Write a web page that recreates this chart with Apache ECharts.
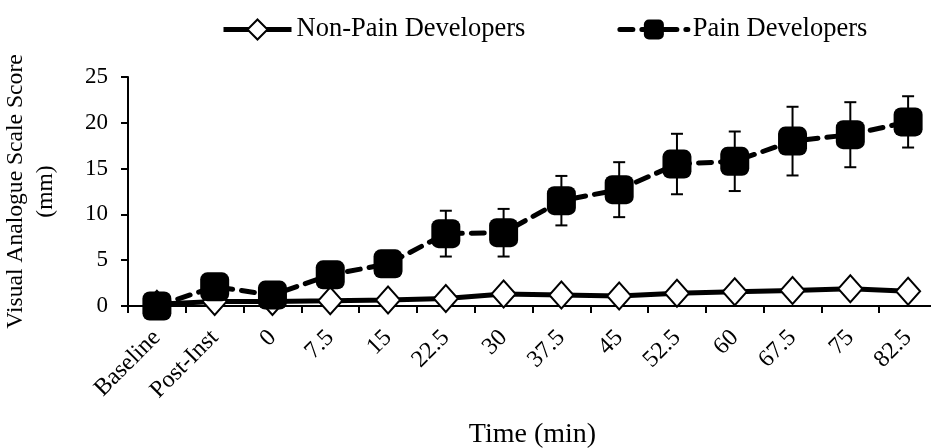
<!DOCTYPE html>
<html>
<head>
<meta charset="utf-8">
<script src="https://cdn.jsdelivr.net/npm/echarts@6/dist/echarts.min.js"></script>
<style>html,body{margin:0;padding:0;background:#fff}#c{width:931px;height:448px}</style>
</head>
<body>
<div id="c"></div>
<script>
const categories = ['Baseline','Post-Inst','0','7.5','15','22.5','30','37.5','45','52.5','60','67.5','75','82.5'];
const nonPain = [0.2, 0.5, 0.5, 0.57, 0.65, 0.82, 1.3, 1.2, 1.1, 1.4, 1.55, 1.7, 1.87, 1.62];
const pain = [0, 2.1, 1.2, 3.4, 4.6, 7.9, 8.0, 11.5, 12.7, 15.5, 15.8, 18.0, 18.7, 20.1];
const painSD = [0.5, 0.8, 0.8, 1.2, 1.3, 2.5, 2.6, 2.7, 3.0, 3.3, 3.25, 3.75, 3.55, 2.8];
const yTicks = [0, 5, 10, 15, 20, 25];

const FONT = '"Liberation Serif", "Times New Roman", serif';
const errData = pain.map((v, i) => [i, v - painSD[i], v + painSD[i]]);

const chart = echarts.init(document.getElementById('c'), null, {renderer: 'canvas'});
chart.setOption({
  animation: false,
  backgroundColor: '#fff',
  textStyle: {fontFamily: FONT, color: '#000'},
  legend: {
    left: 216, top: 11,
    itemWidth: 68, itemHeight: 25, itemGap: 92,
    lineStyle: {width: 5},
    textStyle: {fontFamily: FONT, fontSize: 26.5, color: '#000'},
    data: ['Non-Pain Developers', 'Pain Developers']
  },
  grid: {left: 128, right: -6, top: 77, bottom: 142, containLabel: false, outerBoundsMode: 'none'},
  xAxis: {
    type: 'category', data: categories, boundaryGap: true,
    name: 'Time (min)', nameLocation: 'middle', nameGap: 115,
    nameTextStyle: {fontFamily: FONT, fontSize: 28, color: '#000'},
    axisLine: {lineStyle: {color: '#000', width: 2}},
    axisTick: {show: true, inside: false, length: 7, lineStyle: {color: '#000', width: 2}},
    axisLabel: {rotate: 45, margin: 28, fontFamily: FONT, fontSize: 24, color: '#000', interval: 0}
  },
  yAxis: {
    type: 'value', min: yTicks[0], max: yTicks[yTicks.length - 1], interval: 5,
    name: 'Visual Analogue Scale Score\n(mm)', nameLocation: 'middle', nameGap: 67,
    nameTextStyle: {fontFamily: FONT, fontSize: 23.6, color: '#000', lineHeight: 30, align: 'center'},
    axisLine: {show: true, lineStyle: {color: '#000', width: 2}},
    axisTick: {show: true, inside: false, length: 7, lineStyle: {color: '#000', width: 2}},
    axisLabel: {margin: 20, fontFamily: FONT, fontSize: 23, color: '#000'},
    splitLine: {show: false}
  },
  series: [
    {
      name: 'Non-Pain Developers', type: 'line', data: nonPain, z: 2,
      symbol: 'diamond', symbolSize: [24, 27],
      lineStyle: {color: '#000', width: 5},
      itemStyle: {color: '#fff', borderColor: '#000', borderWidth: 2}
    },
    {
      name: 'err', type: 'custom', z: 3,
      data: errData,
      encode: {x: 0, y: [1, 2]},
      renderItem: function (params, api) {
        const x = api.value(0);
        const lo = api.coord([x, api.value(1)]);
        const hi = api.coord([x, api.value(2)]);
        const hw = 6;
        const st = {stroke: '#000', lineWidth: 2, fill: null};
        return {type: 'group', children: [
          {type: 'line', shape: {x1: lo[0], y1: lo[1], x2: hi[0], y2: hi[1]}, style: st},
          {type: 'line', shape: {x1: lo[0] - hw, y1: lo[1], x2: lo[0] + hw, y2: lo[1]}, style: st},
          {type: 'line', shape: {x1: hi[0] - hw, y1: hi[1], x2: hi[0] + hw, y2: hi[1]}, style: st}
        ]};
      }
    },
    {
      name: 'Pain Developers', type: 'line', data: pain, z: 4,
      symbol: 'roundRect', symbolSize: 29,
      lineStyle: {color: '#000', width: 5, type: [13, 9], cap: 'round'},
      itemStyle: {color: '#000', borderColor: '#000', borderWidth: 0}
    }
  ]
});
</script>
</body>
</html>
